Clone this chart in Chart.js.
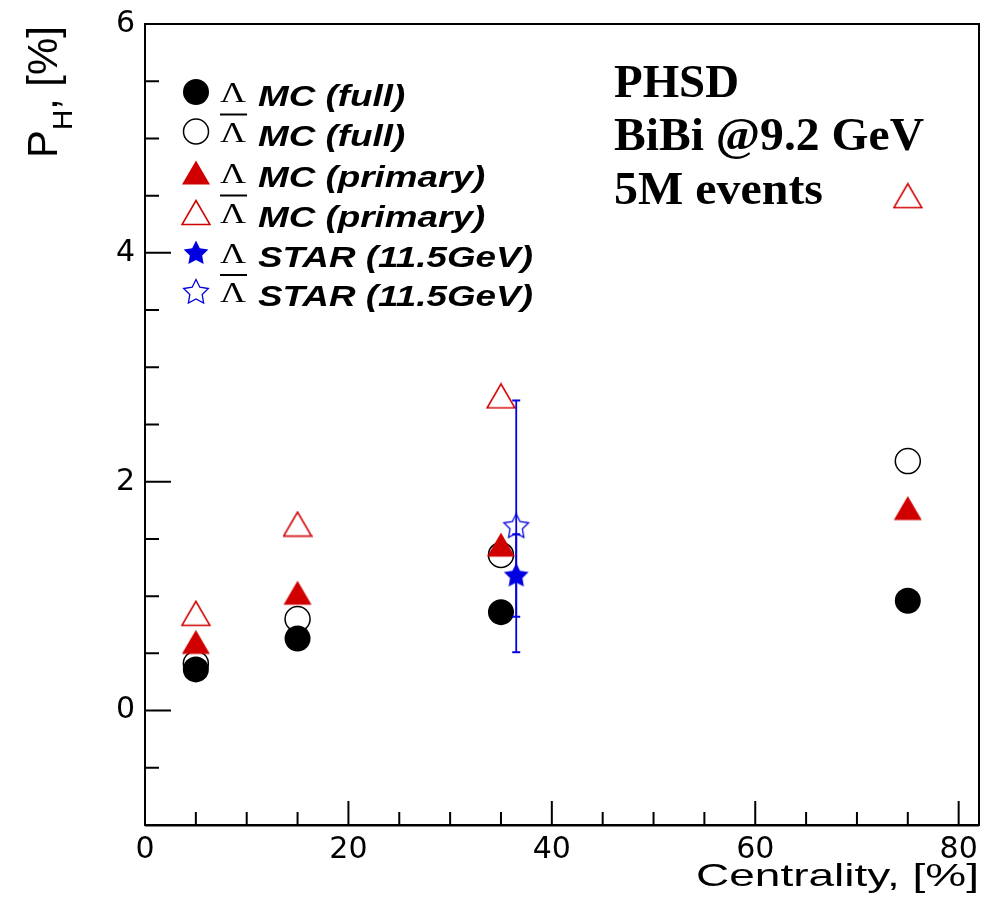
<!DOCTYPE html>
<html>
<head>
<meta charset="utf-8">
<script src="https://cdn.jsdelivr.net/npm/chart.js@4.4.0/dist/chart.umd.min.js"></script>
<style>
  html, body { margin: 0; padding: 0; background: #fff; }
</style>
</head>
<body>
<canvas id="chart" width="982" height="914"></canvas>
<script>
// Data
const centrality = [5, 15, 35, 75];
const lambdaFull = [0.36, 0.63, 0.86, 0.96];
const antiLambdaFull = [0.41, 0.80, 1.36, 2.18];
const lambdaPrimary = [0.60, 1.03, 1.45, 1.77];
const antiLambdaPrimary = [0.85, 1.63, 2.75, 4.50];

const starCentrality = [36.5];
const starLambda = [1.18];
const starLambdaErr = [0.36];
const starAntiLambda = [1.61];
const starAntiLambdaErr = [1.10];

const xTicks = [0, 20, 40, 60, 80];
const yTicks = [0, 2, 4, 6];

const legendLabels = ['MC (full)', 'MC (full)', 'MC (primary)', 'MC (primary)', 'STAR (11.5GeV)', 'STAR (11.5GeV)'];
const infoLines = ['PHSD', 'BiBi @9.2 GeV', '5M events'];

const RED = '#d00000';
const BLUE = '#0000e0';

// ROOT-like marker images
function triangleMarker(filled) {
    const c = document.createElement('canvas');
    c.width = 30; c.height = 27;
    const g = c.getContext('2d');
    g.beginPath();
    g.moveTo(1, 25.5);
    g.lineTo(29, 25.5);
    g.lineTo(15, 1.5);
    g.closePath();
    if (filled) { g.fillStyle = RED; g.fill(); }
    else { g.strokeStyle = RED; g.lineWidth = 1.6; g.stroke(); }
    return c;
}

function starMarker(filled) {
    const c = document.createElement('canvas');
    c.width = 28; c.height = 28;
    const g = c.getContext('2d');
    g.beginPath();
    for (let i = 0; i < 10; i++) {
        const a = -Math.PI / 2 + i * Math.PI / 5;
        const r = i % 2 ? 6.5 : 13;
        const px = 14 + Math.cos(a) * r, py = 14.5 + Math.sin(a) * r;
        if (i === 0) g.moveTo(px, py); else g.lineTo(px, py);
    }
    g.closePath();
    if (filled) { g.fillStyle = BLUE; g.fill(); }
    else { g.strokeStyle = BLUE; g.lineWidth = 1.3; g.stroke(); }
    return c;
}

const triFull = triangleMarker(true);
const triOpen = triangleMarker(false);
const starFull = starMarker(true);
const starOpen = starMarker(false);

const toPts = (xs, ys) => xs.map((x, i) => ({ x: x, y: ys[i] }));
const errPts = (xs, ys, es, i) => [{ x: xs[i], y: ys[i] - es[i] }, { x: xs[i], y: ys[i] + es[i] }];

function stretchText(ctx, text, x, y, font, width, align) {
    ctx.save();
    ctx.font = font;
    const w = ctx.measureText(text).width;
    const sx = width ? width / w : 1;
    ctx.translate(align === 'right' ? x - w * sx : x, y);
    ctx.scale(sx, 1);
    ctx.textAlign = 'left';
    ctx.textBaseline = 'alphabetic';
    ctx.fillStyle = '#000';
    ctx.fillText(text, 0, 0);
    ctx.restore();
    return w * sx;
}

// frame and inward ticks, ROOT style
const rootAxes = {
    id: 'rootAxes',
    beforeDatasetsDraw(chart) {
        const { ctx, chartArea: a, scales: { x, y } } = chart;
        ctx.save();
        ctx.strokeStyle = '#000';
        ctx.lineWidth = 2;
        ctx.strokeRect(a.left, a.top, a.right - a.left, a.bottom - a.top);
        ctx.beginPath();
        ctx.moveTo(a.left, a.bottom + 0.5);
        ctx.lineTo(a.right, a.bottom + 0.5);
        ctx.stroke();

        ctx.beginPath();
        for (let v = 5; v < x.max; v += 5) {
            const px = x.getPixelForValue(v);
            const len = v % 20 === 0 ? 24 : 13;
            ctx.moveTo(px, a.bottom);
            ctx.lineTo(px, a.bottom - len);
        }
        for (let v = y.min + 0.5; v < y.max; v += 0.5) {
            const py = y.getPixelForValue(v);
            const len = v % 2 === 0 ? 26 : 14;
            ctx.moveTo(a.left, py);
            ctx.lineTo(a.left + len, py);
        }
        ctx.stroke();
        ctx.restore();
    }
};

// legend, text box and axis titles
const rootText = {
    id: 'rootText',
    afterDraw(chart) {
        const ctx = chart.ctx;
        const rows = [
            { y: 92, mark: 'fullCircle', bar: false },
            { y: 131.5, mark: 'openCircle', bar: true },
            { y: 172.5, mark: triFull, bar: false },
            { y: 212.5, mark: triOpen, bar: true },
            { y: 253, mark: starFull, bar: false },
            { y: 292, mark: starOpen, bar: true }
        ];
        ctx.save();
        rows.forEach((r, i) => {
            const mx = 196;
            if (r.mark === 'fullCircle' || r.mark === 'openCircle') {
                ctx.beginPath();
                ctx.arc(mx, r.y, r.mark === 'fullCircle' ? 13 : 12.5, 0, Math.PI * 2);
                if (r.mark === 'fullCircle') { ctx.fillStyle = '#000'; ctx.fill(); }
                else { ctx.strokeStyle = '#000'; ctx.lineWidth = 1.5; ctx.stroke(); }
            } else {
                ctx.drawImage(r.mark, mx - r.mark.width / 2, r.y - r.mark.height / 2);
            }
            stretchText(ctx, '\u039B', 220, r.y + 10, '30px "Liberation Serif"', 26);
            if (r.bar) {
                ctx.beginPath();
                ctx.strokeStyle = '#000';
                ctx.lineWidth = 2;
                ctx.moveTo(220, r.y - 17);
                ctx.lineTo(247, r.y - 17);
                ctx.stroke();
            }
            ctx.font = 'bold italic 29px "Liberation Sans"';
            const w = ctx.measureText(legendLabels[i]).width;
            stretchText(ctx, legendLabels[i], 258, r.y + 14, ctx.font, w * 1.27);
        });

        // PHSD info
        const infoWidths = [125, 310, 209];
        const infoBase = [97, 150, 204];
        infoLines.forEach((t, i) => {
            stretchText(ctx, t, 614, infoBase[i], 'bold 46px "Liberation Serif"', infoWidths[i]);
        });

        // x title
        stretchText(ctx, 'Centrality, [%]', 979, 886, '32px "Liberation Sans"', 283, 'right');

        // y title (rotated, with subscript)
        ctx.save();
        ctx.translate(57, 158);
        ctx.rotate(-Math.PI / 2);
        ctx.fillStyle = '#000';
        ctx.textBaseline = 'alphabetic';
        ctx.font = '42px "Liberation Sans"';
        ctx.fillText('P', 0, 0);
        ctx.font = '28px "Liberation Sans"';
        ctx.fillText('H', 28, 15);
        ctx.font = '42px "Liberation Sans"';
        ctx.fillText(', [%]', 48, 0);
        ctx.restore();

        ctx.restore();
    }
};

const tickFont = { family: 'DejaVu Sans', size: 30 };
const noPad = s => { s.paddingLeft = 0; s.paddingRight = 0; s.paddingTop = 0; s.paddingBottom = 0; };

new Chart(document.getElementById('chart'), {
    type: 'scatter',
    data: {
        datasets: [
            {
                label: 'Lambda MC (full)',
                data: toPts(centrality, lambdaFull),
                pointStyle: 'circle', pointRadius: 13,
                backgroundColor: '#000', borderColor: '#000', borderWidth: 0,
                order: 5
            },
            {
                label: 'anti-Lambda MC (full)',
                data: toPts(centrality, antiLambdaFull),
                pointStyle: 'circle', pointRadius: 12.5,
                backgroundColor: 'rgba(0,0,0,0)', borderColor: '#000', borderWidth: 1.5,
                order: 6
            },
            {
                label: 'Lambda MC (primary)',
                data: toPts(centrality, lambdaPrimary),
                pointStyle: triFull, pointRadius: 14,
                order: 3
            },
            {
                label: 'anti-Lambda MC (primary)',
                data: toPts(centrality, antiLambdaPrimary),
                pointStyle: triOpen, pointRadius: 14,
                order: 4
            },
            {
                label: 'Lambda STAR err',
                data: errPts(starCentrality, starLambda, starLambdaErr, 0),
                showLine: true, borderColor: BLUE, borderWidth: 1.8,
                pointStyle: 'line', pointRadius: 4, pointBorderWidth: 2, pointBorderColor: BLUE,
                order: 2
            },
            {
                label: 'anti-Lambda STAR err',
                data: errPts(starCentrality, starAntiLambda, starAntiLambdaErr, 0),
                showLine: true, borderColor: BLUE, borderWidth: 1.8,
                pointStyle: 'line', pointRadius: 4, pointBorderWidth: 2, pointBorderColor: BLUE,
                order: 2
            },
            {
                label: 'Lambda STAR (11.5GeV)',
                data: toPts(starCentrality, starLambda),
                pointStyle: starFull, pointRadius: 13,
                order: 1
            },
            {
                label: 'anti-Lambda STAR (11.5GeV)',
                data: toPts(starCentrality, starAntiLambda),
                pointStyle: starOpen, pointRadius: 13,
                order: 1
            }
        ]
    },
    options: {
        responsive: false,
        animation: false,
        devicePixelRatio: 1,
        layout: { autoPadding: false, padding: { left: 0, top: 24, right: 3, bottom: 0 } },
        plugins: {
            legend: { display: false },
            tooltip: { enabled: false }
        },
        scales: {
            x: {
                type: 'linear', min: 0, max: 82,
                grid: { display: false, drawTicks: false },
                border: { display: false },
                ticks: { font: tickFont, color: '#000', padding: 7, maxRotation: 0, autoSkip: false },
                afterBuildTicks: s => { s.ticks = xTicks.map(v => ({ value: v })); },
                afterFit: s => { s.height = 89; noPad(s); }
            },
            y: {
                type: 'linear', min: -1, max: 6,
                grid: { display: false, drawTicks: false },
                border: { display: false },
                ticks: { font: tickFont, color: '#000', padding: 10, autoSkip: false },
                afterBuildTicks: s => { s.ticks = yTicks.map(v => ({ value: v })); },
                afterFit: s => { s.width = 145; noPad(s); }
            }
        }
    },
    plugins: [rootAxes, rootText]
});
</script>
</body>
</html>
